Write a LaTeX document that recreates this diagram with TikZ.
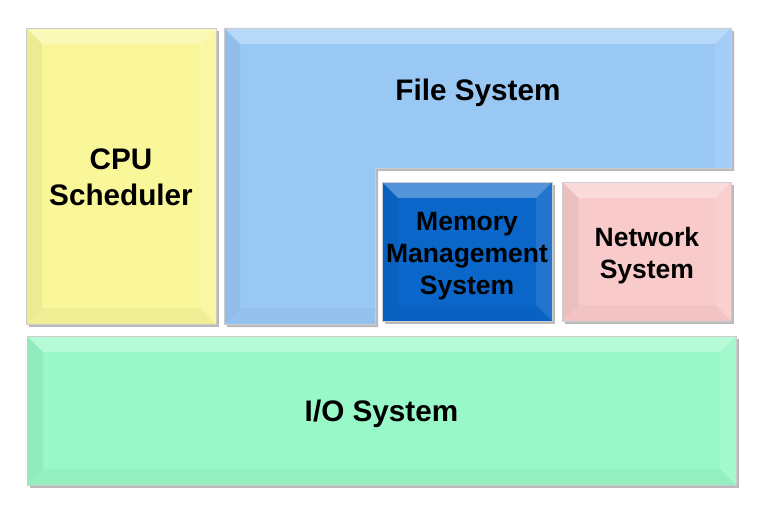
\documentclass[tikz,border=0pt]{standalone}
\usepackage{fontspec}
\setmainfont{Liberation Sans}
\usetikzlibrary{positioning, shadows}

\definecolor{cpuyellow}{RGB}{249,247,154}
\definecolor{fsblue}{RGB}{153,200,245}
\definecolor{memblue}{RGB}{10,102,200}
\definecolor{netpink}{RGB}{249,202,202}
\definecolor{iogreen}{RGB}{153,248,200}

\tikzstyle{bevel} = [path picture={
		\fill[white, opacity=0.3] (path picture bounding box.north west) -- (path picture bounding box.north east) -- ([shift={(-16pt,-16pt)}]path picture bounding box.north east) -- ([shift={(16pt,-16pt)}]path picture bounding box.north west) -- cycle;
		\fill[black, opacity=0.05] (path picture bounding box.north west) -- ([shift={(16pt,-16pt)}]path picture bounding box.north west) -- ([shift={(16pt,16pt)}]path picture bounding box.south west) -- (path picture bounding box.south west) -- cycle;
		\fill[white, opacity=0.1] (path picture bounding box.north east) -- ([shift={(-16pt,-16pt)}]path picture bounding box.north east) -- ([shift={(-16pt,16pt)}]path picture bounding box.south east) -- (path picture bounding box.south east) -- cycle;
		\fill[black, opacity=0.03] (path picture bounding box.south west) -- ([shift={(16pt,16pt)}]path picture bounding box.south west) -- ([shift={(-16pt,16pt)}]path picture bounding box.south east) -- (path picture bounding box.south east) -- cycle;
	}]
\tikzstyle{block} = [rectangle, bevel, draw=black!20, line width=0.4pt, inner sep=0pt, general shadow={fill=black!45, opacity=0.6, shadow xshift=3pt, shadow yshift=-3pt}]
\tikzstyle{big_text} = [align=center, font=\fontsize{29.7}{36}\selectfont\bfseries]
\tikzstyle{small_text} = [align=center, font=\fontsize{26.5}{32}\selectfont\bfseries]

\begin{document}
\begin{tikzpicture}[x=1pt, y=-1pt]
		\useasboundingbox (0,0) rectangle (768,513);

		\node (cpu_scheduler) [block, fill=cpuyellow, minimum width=190pt, minimum height=296pt, label={[big_text, yshift=-1.5pt]center:{CPU\\Scheduler}}] at (121,176) {};

		\path [bevel, fill=fsblue, draw=black!20, line width=0.4pt, general shadow={fill=black!45, opacity=0.6, shadow xshift=3pt, shadow yshift=-3pt}]
			(224,28) -- (731,28) -- (731,168) -- (375,168) -- (375,324) -- (224,324) -- cycle;
		\node (file_system) [big_text] at (478,93) {File System};

		\node (memory_management) [block, fill=memblue, minimum width=170pt, minimum height=139pt, label={[small_text, yshift=-5pt]center:{Memory\\Management\\System}}] at (467,251.5) {};
		\node (network_system) [block, fill=netpink, minimum width=169pt, minimum height=139pt, right=10pt of memory_management, label={[small_text, yshift=-4pt]center:{Network\\System}}] {};

		\node (io_system) [block, fill=iogreen, minimum width=709pt, minimum height=149pt, label={[big_text, yshift=-3pt]center:{I/O System}}] at (381.5,410.5) {};
	\end{tikzpicture}
\end{document}
